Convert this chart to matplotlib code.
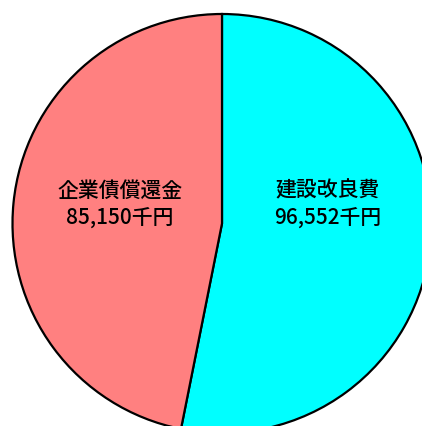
import matplotlib
matplotlib.use("Agg")
import matplotlib.pyplot as plt

plt.rcParams['font.family'] = ['Noto Sans CJK JP', 'DejaVu Sans']

categories = ["建設改良費", "企業債償還金"]
values = [96552, 85150]  # 千円
colors = ["#00FFFF", "#FF8080"]

W, H = 422, 427
fig = plt.figure(figsize=(W / 100, H / 100), dpi=100)
ax = fig.add_axes([0, 0, 1, 1])

cx, cy, r = 222, H - 224.5, 209.5
wedges, _ = ax.pie(values, colors=colors, startangle=90, counterclock=False,
                   center=(cx, cy), radius=r, frame=True,
                   wedgeprops=dict(edgecolor="black", linewidth=1.6))
ax.set_xlim(0, W)
ax.set_ylim(0, H)
ax.axis("off")

label_pos = [(328, H - 205), (120, H - 205)]
for name, v, (x, y) in zip(categories, values, label_pos):
    ax.text(x, y, f"{name}\n{v:,}千円", ha="center", va="center",
            fontsize=15, linespacing=1.38, color="black", fontweight="medium")

fig.savefig("out.png", dpi=100)
